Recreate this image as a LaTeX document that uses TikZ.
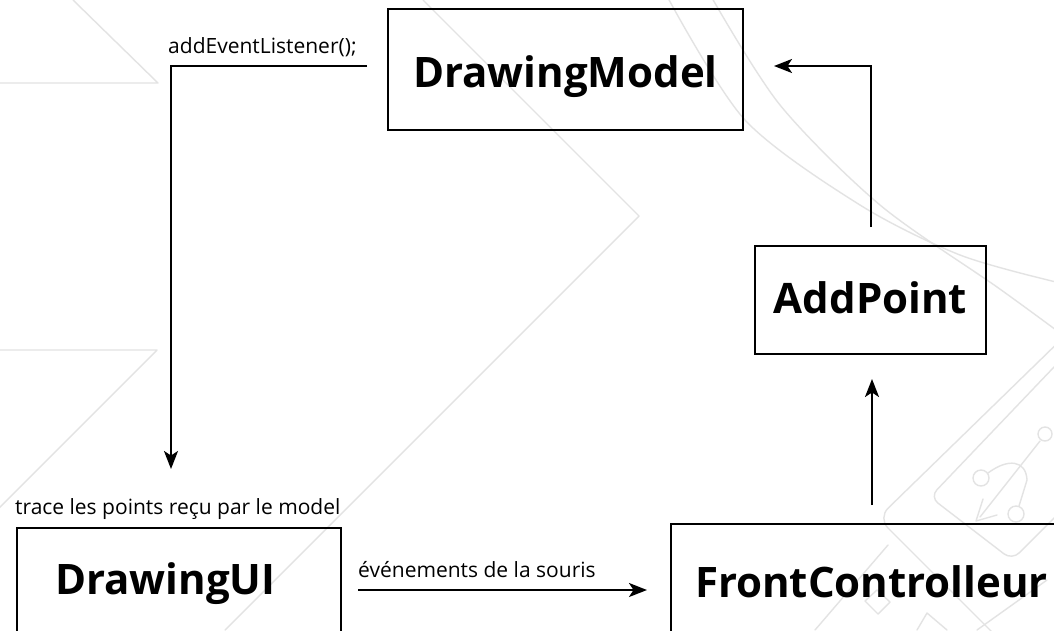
\documentclass[tikz,border=0pt]{standalone}
\usepackage{fontspec}
\setmainfont{Open Sans}
\usetikzlibrary{arrows.meta,calc}
\begin{document}
\begin{tikzpicture}[x=1pt,y=-1pt,
  wm/.style={draw=black!11, line width=1.4pt, line cap=round, line join=round},
  box/.style={draw, line width=2.2pt, inner sep=0pt, outer sep=0pt, font=\bfseries\fontsize{42}{48}\selectfont},
  arr/.style={line width=2pt, -{Stealth[length=18pt,width=14pt,inset=4.5pt]}},
  small/.style={font=\fontsize{21}{24}\selectfont, inner sep=0pt}]
\useasboundingbox (0,0) rectangle (1054,630);
\clip (0,0) rectangle (1054,630);
\fill[white] (0,0) rectangle (1054,630);
% faint watermark
\draw[wm] (73,0) -- (158,83) -- (-5,83);
\draw[wm] (-5,350) -- (157,350) -- (-5,512);
\draw[wm] (423,0) -- (639,216) -- (225,630);
\draw[wm] plot[smooth] coordinates {(668,-2) (745,120) (860,205) (960,255) (1056,282)};
\draw[wm] plot[smooth] coordinates {(712,-2) (780,105) (880,205) (997,287) (1056,330)};
\draw[wm, rounded corners=14pt] (1110,292) -- (878,518) -- (995,635);
\draw[wm, rounded corners=10pt] (1075,345) -- (930,497) -- (1012,560) -- (1075,497);
\draw[wm] (1045,434) circle (7);
\draw[wm] (981,478) circle (8);
\draw[wm] (1016,514) circle (8);
\draw[wm] (1040,441) -- (980,517);
\draw[wm] (983,499) -- (976,521) -- (997,515);
\draw[wm] (988,473) .. controls (1008,458) and (1026,460) .. (1027,480) -- (1019,506);
\draw[wm] (815,630) -- (888,545);
\draw[wm] (865,601) -- (877,590) -- (890,602) -- (878,614) -- cycle;
\draw[wm] (917,630) -- (927,613) -- (947,630);
\draw[wm] (1047,580) -- (977,630);
% boxes
\node[box, minimum width=355pt, text height=78pt, text depth=43pt, anchor=base] (DM) at (565.5,87) {DrawingModel};
\node[box, minimum width=231pt, text height=67pt, text depth=41pt, anchor=base] (AP) at (870.5,313) {AddPoint};
\node[box, text height=66pt, text depth=50pt, anchor=base west] (UI) at (17,594) {\makebox[324pt][l]{\hspace*{38pt}DrawingUI}};
\node[box, text height=73pt, text depth=50pt, anchor=base west] (FC) at (671,597) {\makebox[402pt][l]{\hspace*{24pt}FrontControlleur}};
% labels
\node[small, anchor=base west] (t1) at (168,53) {addEventListener();};
\node[small, anchor=base west] (t2) at (15,514) {trace les points reçu par le model};
\node[small, anchor=base west] (t3) at (358,577) {événements de la souris};
% connectors
\draw[arr] ([shift={(-21,-3.5)}]DM.west) -| ([shift={(154,-59)}]UI.north west);
\draw[arr] ([shift={(17,4)}]UI.east) coordinate (e1) -- ([xshift=-24pt]FC.west |- e1);
\draw[arr, shorten <=19pt, shorten >=25pt] (FC.north) -- (FC.north |- AP.south);
\draw[arr, shorten <=19pt] (AP.north) |- ([shift={(31,-3.5)}]DM.east);
\end{tikzpicture}
\end{document}
